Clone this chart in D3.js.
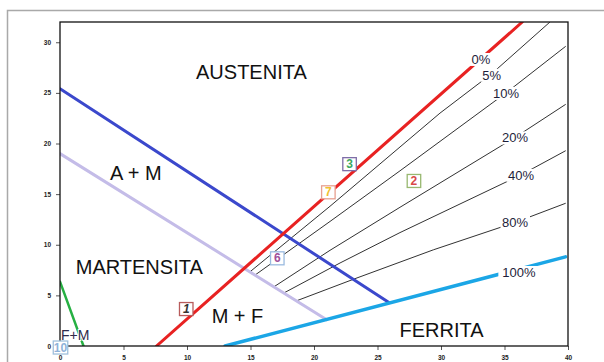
<!DOCTYPE html>
<html>
<head>
<meta charset="utf-8">
<script src="https://cdn.jsdelivr.net/npm/d3@7"></script>
<style>
  body { margin: 0; background: #fff; }
  svg { display: block; }
</style>
</head>
<body>
<svg id="chart" width="604" height="362"></svg>
<script>
// Tick values for Cr-equivalent (x) and Ni-equivalent (y)
const xTicks = [0, 5, 10, 15, 20, 25, 30, 35, 40];
const yTicks = [0, 5, 10, 15, 20, 25, 30];

// Phase boundaries, [Cr eq, Ni eq]
const austeniteMartensite = [[0, 25.4], [25.9, 4.3]];
const martensiteLimit = [[0, 19.0], [21.0, 2.6]];
const ferriteZero = [[7.6, 0], [36.4, 32]];
const ferriteFull = [[13.0, 0], [39.8, 8.8]];
const ferriteMartensite = [[0, 6.35], [1.85, 0]];

// Iso-ferrite lines
const ferrite5 = [[14.96, 7.33], [21.26, 13.8], [29.92, 23.0], [34.0, 26.9], [38.58, 32]];
const ferrite10 = [[15.35, 7.0], [21.26, 12.3], [26.77, 17.3], [35.12, 25.0], [39.82, 29.6]];
const ferrite20 = [[16.85, 5.85], [21.26, 9.45], [26.77, 13.7], [35.83, 20.6], [39.82, 23.87]];
const ferrite40 = [[17.66, 5.26], [22.05, 8.2], [26.77, 11.2], [36.3, 16.9], [39.82, 19.29]];
const ferrite80 = [[18.64, 4.47], [23.23, 6.65], [29.4, 9.5], [35.83, 12.2], [39.82, 14.1]];

// Ferrite percentage labels
const ferriteLabels = ["0%", "5%", "10%", "20%", "40%", "80%", "100%"];

// Region names
const regionNames = ["AUSTENITA", "A + M", "MARTENSITA", "M + F", "FERRITA", "F+M"];

// Numbered samples
const sampleIds = ["1", "2", "3", "6", "7", "10"];
const samplePoints = [[9.94, 3.65], [27.87, 16.3], [22.8, 17.96], [17.11, 8.66], [21.13, 15.18], [0.04, -0.15]];

// ---------- layout ----------
const svg = d3.select("#chart");
const x = d3.scaleLinear().domain([0, 40]).range([60, 568]);
const y = d3.scaleLinear().domain([0, 32]).range([346, 22]);
const font = "'Liberation Sans', Arial, sans-serif";

// outer panel frame
svg.append("rect")
  .attr("x", 7.5).attr("y", 10.5).attr("width", 700).attr("height", 400)
  .attr("fill", "none").attr("stroke", "#a9a9a9").attr("stroke-width", 1.5);

svg.append("defs").append("clipPath").attr("id", "plotClip")
  .append("rect").attr("x", 60).attr("y", 22).attr("width", 508).attr("height", 324);

const plot = svg.append("g").attr("clip-path", "url(#plotClip)");
const line = d3.line().x(d => x(d[0])).y(d => y(d[1]));

// iso-ferrite lines
[ferrite5, ferrite10, ferrite20, ferrite40, ferrite80].forEach(pts => {
  plot.append("path").attr("d", line(pts))
    .attr("fill", "none").attr("stroke", "#1a1a1a").attr("stroke-width", 0.9);
});

// phase boundary lines
const boundaries = [
  { pts: martensiteLimit, color: "#c4bce8", w: 3 },
  { pts: austeniteMartensite, color: "#3b48cc", w: 3 },
  { pts: ferriteZero, color: "#e82222", w: 3 },
  { pts: ferriteFull, color: "#1ba6e6", w: 3.5 },
  { pts: ferriteMartensite, color: "#26b043", w: 2.5 }
];
boundaries.forEach(b => {
  plot.append("path").attr("d", line(b.pts))
    .attr("fill", "none").attr("stroke", b.color).attr("stroke-width", b.w)
    .attr("stroke-linecap", "round");
});

// percentage labels sitting on their lines (white backing breaks the line)
const ferriteLabelPos = [[33.15, 28.3], [33.99, 26.74], [35.12, 24.95], [35.83, 20.55], [36.3, 16.85], [35.83, 12.2], [36.14, 7.26]];
ferriteLabels.forEach((t, i) => {
  const g = svg.append("g");
  const txt = g.append("text")
    .attr("x", x(ferriteLabelPos[i][0])).attr("y", y(ferriteLabelPos[i][1]))
    .attr("text-anchor", "middle").attr("dominant-baseline", "central")
    .attr("font-family", font).attr("font-size", 13).attr("fill", "#1e1e3a")
    .text(t);
  const bb = txt.node().getBBox();
  const padX = t === "100%" ? 4 : 1.5;
  g.insert("rect", "text")
    .attr("x", bb.x - padX).attr("y", bb.y + 1).attr("width", bb.width + 2 * padX).attr("height", bb.height - 2)
    .attr("fill", "#fff");
});

// region names
const regionPos = [[10.71, 26.34], [3.94, 16.4], [1.24, 7.11], [11.94, 2.3], [26.73, 0.86], [0.08, 0.59]];
regionNames.forEach((t, i) => {
  const small = t === "F+M";
  svg.append("text")
    .attr("x", x(regionPos[i][0])).attr("y", y(regionPos[i][1]))
    .attr("font-family", font).attr("font-size", small ? 14 : 20)
    .attr("fill", small ? "#2e2a4a" : "#111")
    .attr("stroke", small ? "#fff" : "none").attr("stroke-width", small ? 2 : 0)
    .attr("paint-order", "stroke")
    .text(t);
});

// axes
const yAxis = svg.append("g").attr("transform", "translate(60,0)")
  .call(d3.axisLeft(y).tickValues(yTicks).tickSize(4).tickPadding(5));
const xAxis = svg.append("g").attr("transform", "translate(0,346)")
  .call(d3.axisBottom(x).tickValues(xTicks).tickSize(4).tickPadding(5.5));
[yAxis, xAxis].forEach(a => {
  a.select(".domain").remove();
  a.selectAll(".tick line").attr("stroke", "#555");
  a.selectAll(".tick text").attr("font-family", font).attr("font-size", 6.5)
    .attr("font-weight", "bold").attr("fill", "#222");
});

// plot frame
svg.append("rect").attr("x", 60).attr("y", 22).attr("width", 508).attr("height", 324)
  .attr("fill", "none").attr("stroke", "#111").attr("stroke-width", 1.3);

// numbered sample boxes
const sampleStyle = {
  "1": { border: "#b85c5c", text: "#333" },
  "2": { border: "#98b870", text: "#d84848" },
  "3": { border: "#7e6ea8", text: "#3aa860" },
  "6": { border: "#9bbbe0", text: "#a0509a" },
  "7": { border: "#e8a090", text: "#f0c030" },
  "10": { border: "#a0c0dc", text: "#8fb3d9" }
};
sampleIds.forEach((id, i) => {
  const cx = x(samplePoints[i][0]), cy = y(samplePoints[i][1]);
  const w = id.length > 1 ? 14.5 : 13.5, h = 13;
  const st = sampleStyle[id];
  svg.append("rect").attr("x", cx - w / 2).attr("y", cy - h / 2).attr("width", w).attr("height", h)
    .attr("fill", "#fff").attr("stroke", st.border).attr("stroke-width", 1.3);
  svg.append("text").attr("x", cx).attr("y", cy)
    .attr("text-anchor", "middle").attr("dominant-baseline", "central")
    .attr("font-family", font).attr("font-size", 12).attr("font-weight", "bold")
    .attr("font-style", id === "1" ? "italic" : "normal")
    .attr("fill", st.text).text(id);
});
</script>
</body>
</html>
